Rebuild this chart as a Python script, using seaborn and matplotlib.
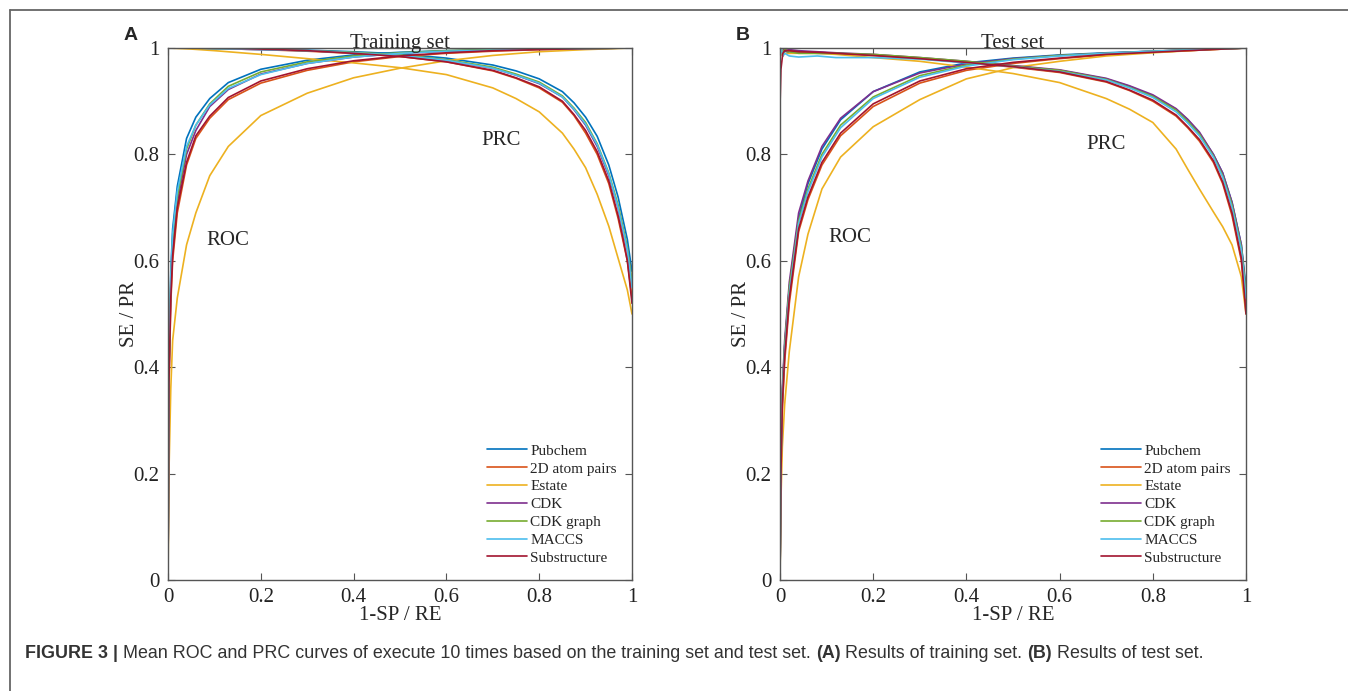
import numpy as np
import pandas as pd
import seaborn as sns
import matplotlib
matplotlib.use('Agg')
import matplotlib.pyplot as plt
from matplotlib.lines import Line2D

# 方法名与颜色 (MATLAB默认配色)
methods = ['Pubchem', '2D atom pairs', 'Estate', 'CDK', 'CDK graph', 'MACCS', 'Substructure']
colors = ['#0072BD', '#D95319', '#EDB120', '#7E2F8E', '#77AC30', '#4DBEEE', '#A2142F']

#%% 训练集 ROC
roc_train_x = [0, 0.002, 0.006, 0.01, 0.02, 0.04, 0.06, 0.09, 0.13, 0.2, 0.3, 0.4, 0.5, 0.6, 0.7, 0.8, 0.9, 1.0]
roc_train_y = [
    [0, 0.40, 0.58, 0.66, 0.74, 0.83, 0.87, 0.905, 0.935, 0.96, 0.977, 0.987, 0.992, 0.995, 0.997, 0.998, 0.999, 1],
    [0, 0.36, 0.52, 0.60, 0.69, 0.78, 0.83, 0.868, 0.903, 0.934, 0.958, 0.974, 0.984, 0.99, 0.994, 0.997, 0.999, 1],
    [0, 0.20, 0.36, 0.45, 0.53, 0.63, 0.69, 0.76, 0.815, 0.873, 0.915, 0.944, 0.962, 0.976, 0.986, 0.993, 0.997, 1],
    [0, 0.38, 0.55, 0.63, 0.71, 0.80, 0.845, 0.89, 0.922, 0.951, 0.971, 0.983, 0.99, 0.994, 0.996, 0.998, 0.999, 1],
    [0, 0.39, 0.56, 0.64, 0.72, 0.81, 0.855, 0.895, 0.928, 0.955, 0.974, 0.985, 0.991, 0.995, 0.997, 0.998, 0.999, 1],
    [0, 0.40, 0.57, 0.65, 0.73, 0.815, 0.855, 0.893, 0.924, 0.95, 0.971, 0.983, 0.99, 0.994, 0.996, 0.998, 0.999, 1],
    [0, 0.37, 0.53, 0.61, 0.70, 0.785, 0.835, 0.872, 0.907, 0.938, 0.961, 0.976, 0.985, 0.991, 0.995, 0.997, 0.999, 1],
]

#%% 训练集 PRC
prc_train_x = [0, 0.05, 0.1, 0.2, 0.3, 0.4, 0.5, 0.6, 0.7, 0.75, 0.8, 0.85, 0.875, 0.9, 0.925, 0.95, 0.97, 0.98, 0.99, 1.0]
prc_train_y = [
    [1, 1, 0.999, 0.998, 0.996, 0.993, 0.989, 0.981, 0.968, 0.957, 0.942, 0.918, 0.897, 0.87, 0.834, 0.78, 0.72, 0.68, 0.64, 0.58],
    [1, 1, 0.999, 0.997, 0.994, 0.99, 0.984, 0.974, 0.957, 0.943, 0.925, 0.898, 0.873, 0.84, 0.80, 0.745, 0.68, 0.64, 0.6, 0.53],
    [1, 0.998, 0.995, 0.988, 0.98, 0.972, 0.963, 0.95, 0.925, 0.905, 0.88, 0.84, 0.81, 0.775, 0.725, 0.665, 0.605, 0.575, 0.545, 0.5],
    [1, 1, 0.999, 0.997, 0.995, 0.991, 0.986, 0.977, 0.962, 0.949, 0.933, 0.908, 0.884, 0.855, 0.815, 0.76, 0.70, 0.66, 0.62, 0.56],
    [1, 1, 0.999, 0.998, 0.995, 0.992, 0.987, 0.978, 0.964, 0.951, 0.936, 0.91, 0.887, 0.86, 0.82, 0.765, 0.705, 0.665, 0.625, 0.56],
    [1, 1, 0.999, 0.997, 0.995, 0.991, 0.986, 0.977, 0.962, 0.949, 0.934, 0.908, 0.885, 0.857, 0.818, 0.763, 0.70, 0.66, 0.62, 0.55],
    [1, 1, 1, 0.998, 0.995, 0.99, 0.984, 0.974, 0.958, 0.944, 0.927, 0.9, 0.875, 0.845, 0.805, 0.75, 0.685, 0.645, 0.60, 0.52],
]

#%% 测试集 ROC
roc_test_x = [0, 0.002, 0.005, 0.01, 0.02, 0.04, 0.06, 0.09, 0.13, 0.2, 0.3, 0.4, 0.5, 0.6, 0.7, 0.8, 0.9, 1.0]
roc_test_y = [
    [0, 0.22, 0.35, 0.44, 0.55, 0.68, 0.745, 0.81, 0.865, 0.918, 0.955, 0.972, 0.981, 0.987, 0.991, 0.994, 0.997, 1],
    [0, 0.20, 0.32, 0.41, 0.52, 0.655, 0.715, 0.78, 0.835, 0.89, 0.934, 0.958, 0.971, 0.98, 0.987, 0.992, 0.996, 1],
    [0, 0.15, 0.25, 0.33, 0.43, 0.57, 0.65, 0.735, 0.795, 0.852, 0.903, 0.942, 0.963, 0.975, 0.985, 0.991, 0.996, 1],
    [0, 0.23, 0.36, 0.45, 0.56, 0.69, 0.75, 0.815, 0.868, 0.918, 0.953, 0.97, 0.98, 0.986, 0.99, 0.994, 0.997, 1],
    [0, 0.22, 0.35, 0.44, 0.55, 0.675, 0.735, 0.80, 0.855, 0.908, 0.948, 0.968, 0.979, 0.986, 0.99, 0.994, 0.997, 1],
    [0, 0.21, 0.34, 0.43, 0.54, 0.67, 0.73, 0.795, 0.85, 0.905, 0.945, 0.966, 0.978, 0.985, 0.99, 0.994, 0.997, 1],
    [0, 0.20, 0.33, 0.42, 0.53, 0.66, 0.72, 0.785, 0.84, 0.895, 0.938, 0.961, 0.973, 0.981, 0.988, 0.992, 0.996, 1],
]

#%% 测试集 PRC
prc_test_x = [0, 0.002, 0.006, 0.01, 0.02, 0.04, 0.08, 0.12, 0.2, 0.3, 0.4, 0.5, 0.6, 0.7, 0.75, 0.8, 0.85, 0.875, 0.9, 0.93, 0.95, 0.97, 0.99, 1.0]
prc_test_y = [
    [1, 1, 0.985, 0.995, 0.99, 0.992, 0.99, 0.99, 0.987, 0.981, 0.974, 0.966, 0.958, 0.942, 0.928, 0.91, 0.885, 0.865, 0.84, 0.80, 0.765, 0.71, 0.63, 0.55],
    [1, 1, 0.99, 0.997, 0.994, 0.993, 0.992, 0.99, 0.986, 0.98, 0.973, 0.964, 0.954, 0.936, 0.92, 0.9, 0.872, 0.85, 0.825, 0.785, 0.745, 0.685, 0.6, 0.51],
    [1, 0.99, 0.985, 0.99, 0.99, 0.99, 0.99, 0.988, 0.982, 0.975, 0.964, 0.952, 0.935, 0.905, 0.885, 0.86, 0.81, 0.772, 0.735, 0.692, 0.664, 0.63, 0.57, 0.5],
    [1, 1, 1, 0.995, 0.997, 0.995, 0.993, 0.991, 0.988, 0.982, 0.975, 0.967, 0.959, 0.943, 0.929, 0.912, 0.886, 0.866, 0.842, 0.80, 0.765, 0.71, 0.63, 0.54],
    [1, 1, 0.99, 0.997, 0.993, 0.99, 0.99, 0.99, 0.988, 0.982, 0.975, 0.966, 0.958, 0.941, 0.926, 0.909, 0.883, 0.862, 0.838, 0.797, 0.76, 0.705, 0.625, 0.54],
    [1, 1, 0.985, 0.99, 0.985, 0.983, 0.985, 0.982, 0.982, 0.979, 0.972, 0.965, 0.956, 0.94, 0.925, 0.907, 0.88, 0.859, 0.835, 0.795, 0.757, 0.70, 0.62, 0.53],
    [0.89, 0.96, 0.99, 0.995, 0.995, 0.993, 0.992, 0.99, 0.986, 0.98, 0.973, 0.965, 0.955, 0.937, 0.921, 0.902, 0.874, 0.852, 0.828, 0.788, 0.748, 0.69, 0.605, 0.5],
]

ticks = [0, 0.2, 0.4, 0.6, 0.8, 1]
tick_labels = ['0', '0.2', '0.4', '0.6', '0.8', '1']

#%% 绘图
sns.set_style('ticks')
plt.rcParams['font.family'] = ['Liberation Serif', 'DejaVu Serif']
gray = '#555555'

fig = plt.figure(figsize=(13.48, 6.91), dpi=100)
axA = fig.add_axes([168/1348, 111/691, 464/1348, 532/691])
axB = fig.add_axes([780/1348, 111/691, 466/1348, 532/691])


def draw_panel(ax, roc_x, roc_y, prc_x, prc_y, title, letter, roc_pos, prc_pos):
    for i, m in enumerate(methods):
        sns.lineplot(x=roc_x, y=roc_y[i], ax=ax, color=colors[i], lw=1.2,
                     sort=False, estimator=None, label=m)
        sns.lineplot(x=prc_x, y=prc_y[i], ax=ax, color=colors[i], lw=1.2,
                     sort=False, estimator=None)
    ax.set_xlim(0, 1)
    ax.set_ylim(0, 1)
    ax.set_xticks(ticks)
    ax.set_xticklabels(tick_labels)
    ax.set_yticks(ticks)
    ax.set_yticklabels(tick_labels)
    ax.tick_params(direction='in', top=True, right=True, length=5,
                   labelsize=15, color=gray, labelcolor='#222222', pad=6)
    for s in ax.spines.values():
        s.set_color(gray)
        s.set_linewidth(1.0)
    ax.set_xlabel('1-SP / RE', fontsize=15, labelpad=-1)
    ax.set_ylabel('SE / PR', fontsize=15, labelpad=-4)
    ax.set_title(title, fontsize=15, pad=0)
    ax.text(roc_pos[0], roc_pos[1], 'ROC', fontsize=15, va='center')
    ax.text(prc_pos[0], prc_pos[1], 'PRC', fontsize=15, va='center')
    ax.text(-0.095, 1.024, letter, transform=ax.transAxes, fontsize=14,
            fontweight='bold', family='Liberation Sans', va='center', ha='left')
    ax.legend(loc='lower right', frameon=False, fontsize=11,
              handlelength=2.6, handletextpad=0.2, labelspacing=0.27,
              borderaxespad=0.6)


draw_panel(axA, roc_train_x, roc_train_y, prc_train_x, prc_train_y,
           'Training set', 'A', (0.083, 0.638), (0.675, 0.827))
draw_panel(axB, roc_test_x, roc_test_y, prc_test_x, prc_test_y,
           'Test set', 'B', (0.103, 0.643), (0.658, 0.818))

# 外框线 (上边和左边)
fig.add_artist(Line2D([10/1348, 1], [1 - 10/691, 1 - 10/691], color='#666666', lw=1.3))
fig.add_artist(Line2D([10/1348, 10/1348], [0, 1 - 10/691], color='#666666', lw=1.3))

# 图注
cap_parts = [('FIGURE 3 | ', 'bold'),
             ('Mean ROC and PRC curves of execute 10 times based on the training set and test set. ', 'normal'),
             ('(A)', 'bold'), (' Results of training set. ', 'normal'),
             ('(B)', 'bold'), (' Results of test set.', 'normal')]
fig.canvas.draw()
renderer = fig.canvas.get_renderer()
xpos = 25 / 1348
for txt, w in cap_parts:
    t = fig.text(xpos, (691 - 654) / 691, txt, fontsize=12.9, fontweight=w,
                 family='Liberation Sans', color='#333333', va='center', ha='left')
    bb = t.get_window_extent(renderer=renderer)
    xpos += bb.width / 1348

plt.savefig('out.png', dpi=100)
